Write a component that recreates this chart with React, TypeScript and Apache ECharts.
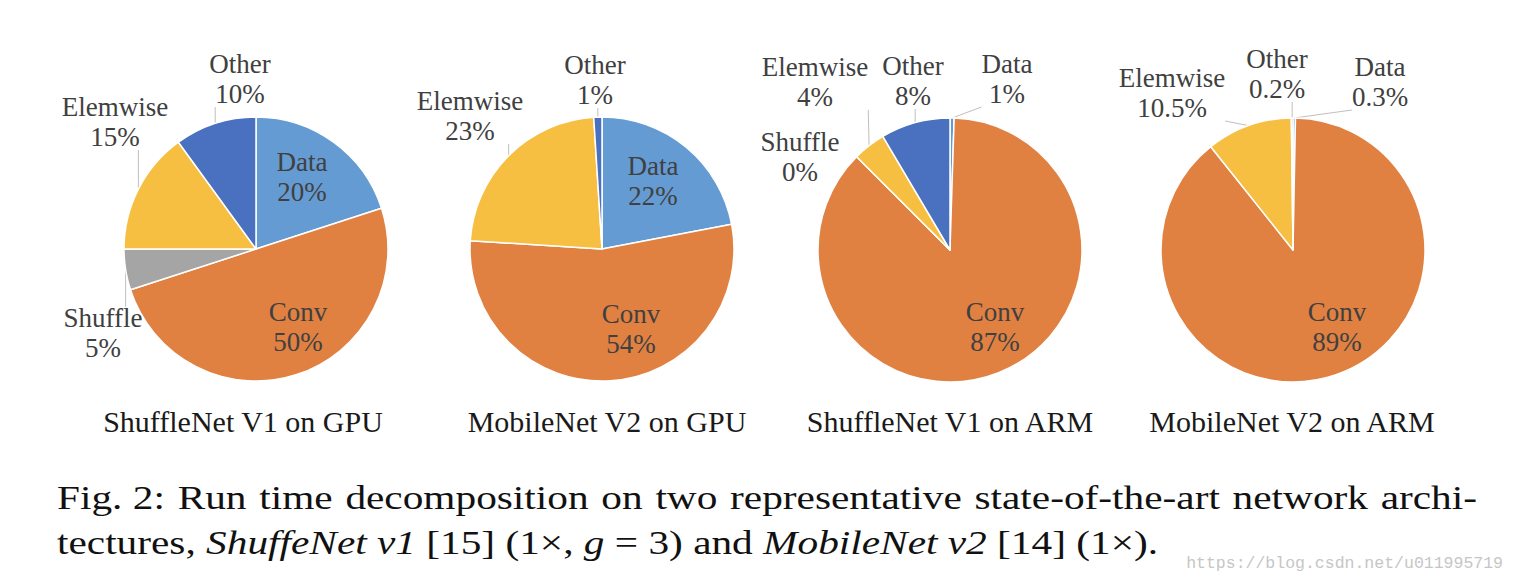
import React, { useEffect, useRef } from "react";
import * as echarts from "echarts";

// ---------- data ----------
const pieTitles = [
  "ShuffleNet V1 on GPU",
  "MobileNet V2 on GPU",
  "ShuffleNet V1 on ARM",
  "MobileNet V2 on ARM",
];

const shuffleGpuNames = ["Data", "Conv", "Shuffle", "Elemwise", "Other"];
const shuffleGpuValues = [20, 50, 5, 15, 10];
const shuffleGpuLabels = ["20%", "50%", "5%", "15%", "10%"];

const mobileGpuNames = ["Data", "Conv", "Elemwise", "Other"];
const mobileGpuValues = [22, 54, 23, 1];
const mobileGpuLabels = ["22%", "54%", "23%", "1%"];

const shuffleArmNames = ["Data", "Conv", "Shuffle", "Elemwise", "Other"];
const shuffleArmValues = [0.5, 87, 0, 4, 8.5];
const shuffleArmLabels = ["1%", "87%", "0%", "4%", "8%"];

const mobileArmNames = ["Data", "Conv", "Elemwise", "Other"];
const mobileArmValues = [0.3, 89, 10.5, 0.2];
const mobileArmLabels = ["0.3%", "89%", "10.5%", "0.2%"];

const captionLine1Words = [
  "Fig. 2:",
  "Run",
  "time",
  "decomposition",
  "on",
  "two",
  "representative",
  "state-of-the-art",
  "network",
  "archi-",
];
const captionLine2Segments: { t: string; it: boolean }[] = [
  { t: "tectures, ", it: false },
  { t: "ShuffeNet v1", it: true },
  { t: " [15] (1×, ", it: false },
  { t: "g", it: true },
  { t: " = 3) and ", it: false },
  { t: "MobileNet v2", it: true },
  { t: " [14] (1×).", it: false },
];
const watermarkText = "https://blog.csdn.net/u011995719";

// ---------- styles / layout ----------
const COLORS: Record<string, string> = {
  Data: "#659BD3",
  Conv: "#E08142",
  Shuffle: "#A5A5A5",
  Elemwise: "#F6BF42",
  Other: "#4A71BF",
};
const SERIF = '"Liberation Serif", "Times New Roman", serif';
const PIE_CENTERS = [
  [256, 249],
  [602, 249],
  [950, 250],
  [1293, 250],
];
const PIE_RADIUS = 132;
const TITLE_X = [243, 607, 950, 1292];
const TITLE_Y = 421;
// label block centre, relative to pie centre
const LABEL_OFFSETS = [
  [[46, -72], [42, 78], [-153, 84], [-141, -127], [-16, -170]],
  [[51, -68], [29, 80], [-132, -133], [-7, -169]],
  [[57, -171], [45, 77], [-150, -93], [-135, -168], [-37, -169]],
  [[87, -168], [44, 77], [-121, -157], [-16, -176]],
];

const PIES = [
  { names: shuffleGpuNames, values: shuffleGpuValues, labels: shuffleGpuLabels, inside: ["Data", "Conv"], noLine: [] as string[] },
  { names: mobileGpuNames, values: mobileGpuValues, labels: mobileGpuLabels, inside: ["Data", "Conv"], noLine: [] as string[] },
  { names: shuffleArmNames, values: shuffleArmValues, labels: shuffleArmLabels, inside: ["Conv"], noLine: ["Shuffle"] },
  { names: mobileArmNames, values: mobileArmValues, labels: mobileArmLabels, inside: ["Conv"], noLine: [] as string[] },
];

const CAP_SIZE = 34;
const CAP_LEFT = 57;
const CAP_RIGHT = 1477;
const CAP_LINE2_END = 1158;
const CAP_Y1 = 497;
const CAP_Y2 = 542;

export default function App() {
  const ref = useRef<HTMLDivElement>(null);

  useEffect(() => {
    if (!ref.current) return;
    const chart = echarts.init(ref.current, undefined, { renderer: "svg" });

    const ctx = document.createElement("canvas").getContext("2d")!;
    const fontR = `${CAP_SIZE}px "Liberation Serif"`;
    const fontI = `italic ${CAP_SIZE}px "Liberation Serif"`;
    const measure = (t: string, f: string) => {
      ctx.font = f;
      return ctx.measureText(t).width;
    };

    // caption line 2 (natural width defines horizontal scale)
    let natural2 = 0;
    captionLine2Segments.forEach((s) => (natural2 += measure(s.t, s.it ? fontI : fontR)));
    const k = (CAP_LINE2_END - CAP_LEFT) / natural2;

    const capElems: any[] = [];
    const capText = (t: string, x: number, y: number, italic: boolean) => ({
      type: "text",
      x,
      y,
      scaleX: k,
      silent: true,
      style: {
        text: t,
        font: italic ? fontI : fontR,
        fill: "#111",
        align: "left",
        verticalAlign: "middle",
      },
    });

    let cursor = CAP_LEFT;
    captionLine2Segments.forEach((s) => {
      const f = s.it ? fontI : fontR;
      const tokens = s.t.match(/\s+|[^\s]+/g) || [];
      tokens.forEach((tok) => {
        const w = measure(tok, f) * k;
        if (tok.trim().length) capElems.push(capText(tok, cursor, CAP_Y2, s.it));
        cursor += w;
      });
    });

    // caption line 1, justified
    const widths = captionLine1Words.map((w) => measure(w, fontR) * k);
    const total = widths.reduce((a, b) => a + b, 0);
    const gap = (CAP_RIGHT - CAP_LEFT - total) / (captionLine1Words.length - 1);
    let cx = CAP_LEFT;
    captionLine1Words.forEach((w, i) => {
      capElems.push(capText(w, cx, CAP_Y1, false));
      cx += widths[i] + gap;
    });

    const series = PIES.map((p, s) => ({
      type: "pie",
      center: PIE_CENTERS[s],
      radius: PIE_RADIUS,
      startAngle: 90,
      clockwise: true,
      avoidLabelOverlap: false,
      silent: true,
      minAngle: 0,
      itemStyle: { borderColor: "#ffffff", borderWidth: 1.5 },
      label: {
        show: true,
        position: "outside",
        formatter: (d: any) => `${d.name}\n${p.labels[d.dataIndex]}`,
        fontFamily: SERIF,
        fontSize: 27,
        lineHeight: 30,
        color: "#404040",
        align: "center",
        textBorderWidth: 0,
      },
      labelLine: {
        show: true,
        length: 6,
        length2: 6,
        lineStyle: { color: "#BFBFBF", width: 1 },
      },
      labelLayout: (params: any) => {
        const [pcx, pcy] = PIE_CENTERS[params.seriesIndex];
        const [ox, oy] = LABEL_OFFSETS[params.seriesIndex][params.dataIndex];
        const x = pcx + ox;
        const y = pcy + oy;
        const out: any = { x, y, align: "center", verticalAlign: "middle" };
        const pts = params.labelLinePoints;
        if (pts && pts.length) {
          const a = pts[0];
          const w = params.labelRect.width;
          const h = params.labelRect.height;
          const ex = Math.min(Math.max(a[0], x - w / 2), x + w / 2);
          const ey = Math.min(Math.max(a[1], y - h / 2 + 4), y + h / 2 - 2);
          out.labelLinePoints = [[a[0], a[1]], [a[0], a[1]], [ex, ey]];
        }
        return out;
      },
      data: p.names.map((n, i) => ({
        name: n,
        value: p.values[i],
        itemStyle: { color: COLORS[n] },
        label: p.inside.includes(n) ? { position: "inside" } : undefined,
        labelLine: p.noLine.includes(n) ? { show: false } : undefined,
      })),
    }));

    const titleElems = pieTitles.map((t, i) => ({
      type: "text",
      x: TITLE_X[i],
      y: TITLE_Y,
      silent: true,
      style: {
        text: t,
        font: `30px ${SERIF}`,
        fill: "#1a1a1a",
        align: "center",
        verticalAlign: "middle",
      },
    }));

    chart.setOption({
      animation: false,
      backgroundColor: "#ffffff",
      series,
      graphic: [
        ...titleElems,
        ...capElems,
        {
          type: "text",
          x: 1503,
          y: 563,
          silent: true,
          style: {
            text: watermarkText,
            font: '16.5px "Liberation Mono", monospace',
            fill: "#c6c6c6",
            align: "right",
            verticalAlign: "middle",
          },
        },
      ],
    });

    return () => chart.dispose();
  }, []);

  return (
    <div
      ref={ref}
      style={{ position: "absolute", left: 0, top: 0, width: 1515, height: 584, background: "#fff" }}
    />
  );
}
